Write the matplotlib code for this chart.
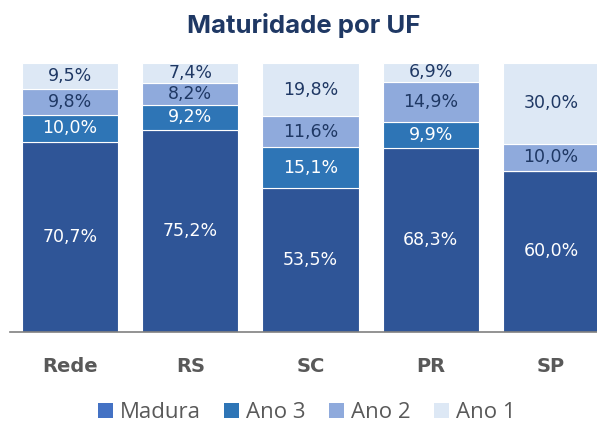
import matplotlib
matplotlib.use("Agg")
import matplotlib.pyplot as plt
import numpy as np
from matplotlib.patches import Patch

# Data
ufs = ["Rede", "RS", "SC", "PR", "SP"]
series = ["Madura", "Ano 3", "Ano 2", "Ano 1"]
madura = [70.7, 75.2, 53.5, 68.3, 60.0]
ano3 = [10.0, 9.2, 15.1, 9.9, 0.0]
ano2 = [9.8, 8.2, 11.6, 14.9, 10.0]
ano1 = [9.5, 7.4, 19.8, 6.9, 30.0]

bar_colors = ["#2F5597", "#2E75B6", "#8FAADC", "#DDE8F5"]
legend_colors = ["#4472C4", "#2E75B6", "#8FAADC", "#DDE8F5"]
text_colors = ["white", "white", "#1F3864", "#1F3864"]

W, H = 597, 426
fig = plt.figure(figsize=(W / 100, H / 100), dpi=100)
ax = fig.add_axes([10 / W, (H - 332) / H, (W - 10) / W, (332 - 63) / H])

x = np.arange(len(ufs))
bottom = np.zeros(len(ufs))
for vals, col, tcol in zip([madura, ano3, ano2, ano1], bar_colors, text_colors):
    vals = np.array(vals)
    ax.bar(x, vals, bottom=bottom, width=0.8, color=col, edgecolor="white", linewidth=0.8)
    for xi, b, v in zip(x, bottom, vals):
        if v > 0:
            ax.text(xi, b + v / 2, f"{v:.1f}%".replace(".", ","), ha="center", va="center",
                    color=tcol, fontsize=12.5, family="DejaVu Sans")
    bottom += vals

ax.set_xlim(-0.5, 4.383)
ax.set_ylim(0, 100)
ax.set_yticks([])
for s in ["top", "right", "left"]:
    ax.spines[s].set_visible(False)
ax.spines["bottom"].set_color("#808080")
ax.spines["bottom"].set_linewidth(1.2)
ax.set_xticks(x)
ax.set_xticklabels(ufs, fontsize=14, fontweight="bold", color="#595959", family="DejaVu Sans")
ax.tick_params(axis="x", length=0, pad=18)

fig.text(0.508, (H - 26) / H, "Maturidade por UF", ha="center", va="center",
         fontsize=18.5, fontweight="bold", color="#1F3864", family="Inter")

handles = [Patch(facecolor=c, edgecolor="none") for c in legend_colors]
leg = fig.legend(handles, series, loc="center", bbox_to_anchor=(0.514, (H - 413) / H), ncol=4,
                 frameon=False, prop={"family": "Open Sans", "size": 16}, handlelength=0.68,
                 handleheight=0.68, handletextpad=0.32, columnspacing=1.04, borderaxespad=0)
for t in leg.get_texts():
    t.set_color("#595959")

fig.savefig("out.png", dpi=100)
